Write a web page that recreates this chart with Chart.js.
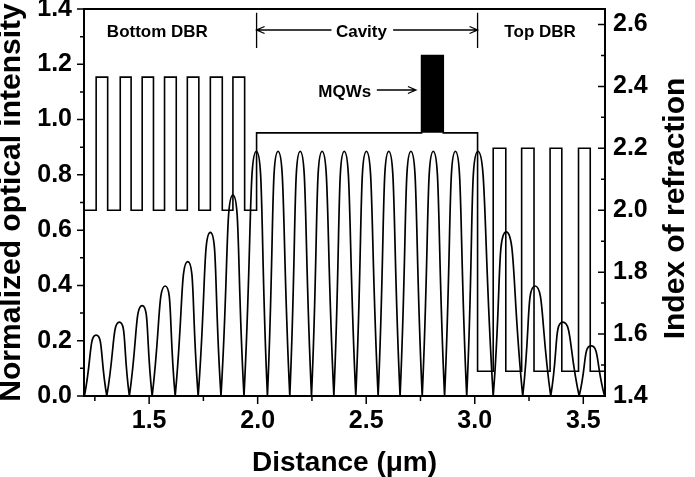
<!DOCTYPE html>
<html>
<head>
<meta charset="utf-8">
<title>VCSEL optical intensity and refractive index</title>
<script src="https://cdn.jsdelivr.net/npm/chart.js@4.4.1/dist/chart.umd.min.js"></script>
<style>
  html, body { margin: 0; padding: 0; background: #fff; }
  #wrap { width: 695px; height: 477px; }
</style>
</head>
<body>
<div id="wrap"><canvas id="chart"></canvas></div>
<script>
// standing wave: zeros and arch peaks (distance in um, normalized intensity)
const zeroX = [1.202, 1.305, 1.409, 1.514, 1.620, 1.726, 1.831, 1.937, 2.045, 2.148, 2.248, 2.351,
  2.452, 2.555, 2.656, 2.758, 2.861, 2.963, 3.085, 3.221, 3.350, 3.481, 3.598];
const peakX = [1.256, 1.363, 1.468, 1.574, 1.678, 1.782, 1.886, 1.994, 2.094, 2.196, 2.297, 2.399,
  2.501, 2.604, 2.706, 2.809, 2.911, 3.015, 3.145, 3.278, 3.406, 3.536];
const peakY = [0.22, 0.267, 0.327, 0.398, 0.486, 0.592, 0.727, 0.885, 0.885, 0.885, 0.885, 0.885,
  0.885, 0.885, 0.885, 0.885, 0.885, 0.885, 0.594, 0.398, 0.267, 0.181];

// refractive index profile: each level holds from its x until the next one
const indexX = [1.2, 1.256, 1.309, 1.367, 1.417, 1.468, 1.520, 1.571, 1.625, 1.676, 1.729, 1.782,
  1.837, 1.886, 1.940, 1.995, 2.755, 2.855, 3.013, 3.085, 3.143, 3.216, 3.273, 3.347, 3.401,
  3.478, 3.532, 3.6];
const indexN = [2.0, 2.43, 2.0, 2.43, 2.0, 2.43, 2.0, 2.43, 2.0, 2.43, 2.0, 2.43,
  2.0, 2.43, 2.0, 2.25, 2.5, 2.25, 1.48, 2.2, 1.48, 2.2, 1.48, 2.2, 1.48,
  2.2, 1.48, 1.48];

// quantum wells block
const mqwX = [2.755, 2.855];
const mqwN = 2.5;
const cavityN = 2.25;

const xTicks = { min: 1.2, max: 3.6, step: 0.5 };
const yTicks = { min: 0, max: 1.4, step: 0.2 };
const y2Ticks = { min: 1.4, max: 2.65, step: 0.2 };

// build the arches, one gap between each so the cusps stay sharp
const intensity = [];
peakX.forEach((px, i) => {
  intensity.push({ x: zeroX[i], y: 0 });
  intensity.push({ x: px, y: peakY[i] });
  intensity.push({ x: zeroX[i + 1], y: 0 });
  intensity.push({ x: zeroX[i + 1], y: null });
});

const profile = indexX.map((x, i) => ({ x: x, y: indexN[i] }));
const mqw = mqwX.map(x => ({ x: x, y: mqwN }));

// text and arrows, placed in data units (left axis)
const notes = [
  { text: 'Bottom DBR', x: 1.538, y: 1.315 },
  { text: 'Cavity', x: 2.478, y: 1.317 },
  { text: 'Top DBR', x: 3.301, y: 1.317 },
  { text: 'MQWs', x: 2.401, y: 1.100 }
];
const cavityMarks = { left: 1.995, right: 3.013, top: 1.386, bottom: 1.259, arrowY: 1.324, gapL: 2.340, gapR: 2.624 };
const mqwArrow = { from: 2.549, to: 2.729, y: 1.107 };

Chart.defaults.font.family = "'Liberation Sans', Arial, sans-serif";
Chart.defaults.color = '#000';

function minorOf(scale, step) {
  const out = [];
  scale.ticks.forEach(t => {
    [t.value - step / 2, t.value + step / 2].forEach(m => {
      if (m > scale.min && m < scale.max && !out.some(q => Math.abs(q - m) < 1e-6)) out.push(m);
    });
  });
  return out;
}

function arrow(ctx, x1, y, x2) {
  const dir = x2 > x1 ? 1 : -1;
  ctx.beginPath();
  ctx.moveTo(x1, y);
  ctx.lineTo(x2, y);
  ctx.moveTo(x2 - dir * 8, y - 3.5);
  ctx.lineTo(x2, y);
  ctx.lineTo(x2 - dir * 8, y + 3.5);
  ctx.stroke();
}

const framePlugin = {
  id: 'frame',
  afterDatasetsDraw(chart) {
    const { ctx, chartArea: a, scales } = chart;
    const { x, y, y2 } = scales;
    ctx.save();
    ctx.strokeStyle = '#000';
    ctx.lineWidth = 2;
    ctx.strokeRect(a.left, a.top, a.right - a.left, a.bottom - a.top);

    ctx.lineWidth = 1.5;
    ctx.beginPath();
    x.ticks.forEach(t => { const p = x.getPixelForValue(t.value); ctx.moveTo(p, a.bottom); ctx.lineTo(p, a.bottom + 8); });
    minorOf(x, xTicks.step).forEach(v => { const p = x.getPixelForValue(v); ctx.moveTo(p, a.bottom); ctx.lineTo(p, a.bottom + 5); });
    y.ticks.forEach(t => { const p = y.getPixelForValue(t.value); ctx.moveTo(a.left - 7, p); ctx.lineTo(a.left, p); });
    minorOf(y, yTicks.step).forEach(v => { const p = y.getPixelForValue(v); ctx.moveTo(a.left - 4, p); ctx.lineTo(a.left, p); });
    y2.ticks.forEach(t => { const p = y2.getPixelForValue(t.value); ctx.moveTo(a.right, p); ctx.lineTo(a.right - 7, p); });
    minorOf(y2, y2Ticks.step).forEach(v => { const p = y2.getPixelForValue(v); ctx.moveTo(a.right, p); ctx.lineTo(a.right - 4, p); });
    ctx.stroke();

    // annotations
    ctx.font = "bold 17px 'Liberation Sans', Arial, sans-serif";
    ctx.fillStyle = '#000';
    ctx.textAlign = 'center';
    ctx.textBaseline = 'middle';
    notes.forEach(n => ctx.fillText(n.text, x.getPixelForValue(n.x), y.getPixelForValue(n.y)));

    ctx.lineWidth = 1.3;
    const cl = x.getPixelForValue(cavityMarks.left), cr = x.getPixelForValue(cavityMarks.right);
    const ct = y.getPixelForValue(cavityMarks.top), cb = y.getPixelForValue(cavityMarks.bottom);
    const ay = y.getPixelForValue(cavityMarks.arrowY);
    ctx.beginPath();
    ctx.moveTo(cl, ct); ctx.lineTo(cl, cb);
    ctx.moveTo(cr, ct); ctx.lineTo(cr, cb);
    ctx.stroke();
    arrow(ctx, x.getPixelForValue(cavityMarks.gapL), ay, cl);
    arrow(ctx, x.getPixelForValue(cavityMarks.gapR), ay, cr);
    arrow(ctx, x.getPixelForValue(mqwArrow.from), y.getPixelForValue(mqwArrow.y), x.getPixelForValue(mqwArrow.to));

    // right axis title reads bottom to top
    ctx.font = "bold 30px 'Liberation Sans', Arial, sans-serif";
    ctx.translate(y2.left + 71, (a.top + a.bottom) / 2 + 6);
    ctx.rotate(-Math.PI / 2);
    ctx.fillText('Index of refraction', 0, 0);
    ctx.restore();
  }
};

const tickFont = { size: 25, weight: 'bold' };

new Chart(document.getElementById('chart'), {
  type: 'line',
  data: {
    datasets: [
      {
        label: 'MQWs',
        data: mqw,
        yAxisID: 'y2',
        borderWidth: 0,
        backgroundColor: '#000',
        fill: { value: cavityN },
        pointRadius: 0
      },
      {
        label: 'Index of refraction',
        data: profile,
        yAxisID: 'y2',
        stepped: true,
        borderColor: '#000',
        borderWidth: 1.6,
        pointRadius: 0,
        fill: false
      },
      {
        label: 'Normalized optical intensity',
        data: intensity,
        yAxisID: 'y',
        borderColor: '#000',
        borderWidth: 1.7,
        tension: 0.62,
        spanGaps: false,
        pointRadius: 0,
        fill: false
      }
    ]
  },
  options: {
    responsive: true,
    maintainAspectRatio: false,
    animation: false,
    layout: { padding: { top: 9, right: 0, left: 0, bottom: 0 } },
    plugins: {
      legend: { display: false },
      tooltip: { enabled: false }
    },
    scales: {
      x: {
        type: 'linear',
        min: xTicks.min,
        max: xTicks.max,
        grid: { display: false, drawTicks: false },
        border: { display: false },
        ticks: {
          stepSize: xTicks.step,
          includeBounds: false,
          padding: 10,
          font: tickFont,
          maxRotation: 0,
          callback: v => v.toFixed(1)
        },
        title: {
          display: true,
          text: 'Distance (\u03bcm)',
          font: { size: 28, weight: 'bold', lineHeight: 1.0 },
          padding: 0
        },
        afterFit: s => { s.height = 81; s.paddingLeft = 0; s.paddingRight = 0; }
      },
      y: {
        position: 'left',
        min: yTicks.min,
        max: yTicks.max,
        grid: { display: false, drawTicks: false },
        border: { display: false },
        ticks: {
          stepSize: yTicks.step,
          padding: 12,
          font: tickFont,
          callback: v => v.toFixed(1)
        },
        title: {
          display: true,
          text: 'Normalized optical intensity',
          font: { size: 30, weight: 'bold', lineHeight: 0.75 },
          padding: 0
        },
        afterFit: s => { s.width = 84; s.paddingTop = 0; s.paddingBottom = 0; }
      },
      y2: {
        position: 'right',
        min: y2Ticks.min,
        max: y2Ticks.max,
        grid: { display: false, drawTicks: false },
        border: { display: false },
        ticks: {
          stepSize: y2Ticks.step,
          includeBounds: false,
          padding: 8,
          font: tickFont,
          callback: v => v.toFixed(1)
        },
        afterFit: s => { s.width = 90; s.paddingTop = 0; s.paddingBottom = 0; }
      }
    }
  },
  plugins: [framePlugin]
});
</script>
</body>
</html>
